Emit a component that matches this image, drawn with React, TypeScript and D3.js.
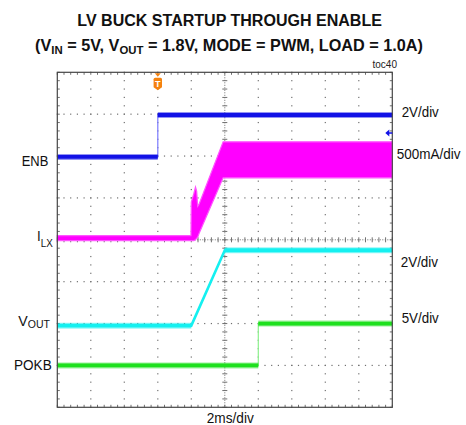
import React, { useLayoutEffect, useRef } from 'react';
import * as d3 from 'd3';

// ---------- data ----------
const titleLine1 = 'LV BUCK STARTUP THROUGH ENABLE';
const tocLabel = 'toc40';
const timeLabel = '2ms/div';
const timeDomain = [-6, 14]; // ms, trigger at 0, 2 ms/div
const msPerDiv = 2;

const enbTime = [-6, 0, 0, 14];
const enbVolts = [0, 0, 2, 2];

const ilTime = [-6, 1.98, 2.0, 2.15, 2.25, 2.32, 2.38, 2.45, 3.9, 14];
const ilUpper = [0.05, 0.05, 0.45, 0.55, 0.63, 0.58, 0.4, 0.42, 1.17, 1.17];
const ilLower = [-0.01, -0.01, -0.01, -0.01, 0.0, 0.02, 0.03, 0.07, 0.74, 0.74];

const voutTime = [-6, 2, 4, 14];
const voutVolts = [0, 0, 1.8, 1.8];

const pokbTime = [-6, 6, 6, 14];
const pokbVolts = [0, 0, 5, 5];

const channelNames = ['ENB', 'I', 'V', 'POKB'];
const channelSubs = ['', 'LX', 'OUT', ''];
const scaleLabels = ['2V/div', '500mA/div', '2V/div', '5V/div'];
const channelPerDiv = [2, 0.5, 1, 5];
const channelOffsetDiv = [1.98, 0, -2.05, -3.0];
const channelColors = ['#1212e6', '#ff00ff', '#14f0f0', '#1ee01e'];
const channelEdgeColors = ['#7a7aff', '#ff00ff', '#14f0f0', '#8cf08c'];
const markerDiv = 2.55;

// ---------- layout ----------
const W = 466, H = 425;
const X0 = 57.3, Y0 = 72.3, PW = 335, PH = 335;
const Y_DIVS = 8, MINOR = 5;
const FONT = '"Liberation Sans", Arial, Helvetica, sans-serif';
const GRID = '#707070';

function FitText(props: any) {
  const { x, y, width, anchor = 'start', children, ...rest } = props;
  const ref = useRef<SVGTextElement>(null);
  useLayoutEffect(() => {
    const el = ref.current;
    if (!el) return;
    el.setAttribute('transform', `translate(${x},${y})`);
    const w = el.getBBox().width;
    const s = w > 0 ? width / w : 1;
    el.setAttribute('transform', `translate(${x},${y}) scale(${s},1)`);
  }, [x, y, width]);
  return (
    <text ref={ref} x={0} y={0} textAnchor={anchor} transform={`translate(${x},${y})`} fontFamily={FONT} {...rest}>
      {children}
    </text>
  );
}

export default function App() {
  const xScale = d3.scaleLinear().domain(timeDomain).range([X0, X0 + PW]);
  const divScale = d3.scaleLinear().domain([-Y_DIVS / 2, Y_DIVS / 2]).range([Y0 + PH, Y0]);
  const chY = (ch: number, v: number) => divScale(v / channelPerDiv[ch] + channelOffsetDiv[ch]);

  const nXDiv = (timeDomain[1] - timeDomain[0]) / msPerDiv;
  const xMajor = d3.range(0, nXDiv + 1).map((i) => timeDomain[0] + i * msPerDiv);
  const xMinor = d3.range(0, nXDiv * MINOR + 1).map((i) => timeDomain[0] + (i * msPerDiv) / MINOR);
  const yMajor = d3.range(0, Y_DIVS + 1).map((i) => -Y_DIVS / 2 + i);
  const yMinor = d3.range(0, Y_DIVS * MINOR + 1).map((i) => -Y_DIVS / 2 + i / MINOR);
  const xC = xScale((timeDomain[0] + timeDomain[1]) / 2);
  const yC = divScale(0);

  const grid: any[] = [];
  xMajor.forEach((t, i) => {
    if (i === 0 || i === nXDiv || i === nXDiv / 2) return;
    yMinor.forEach((d, j) => {
      grid.push(<rect key={`vg${i}-${j}`} x={xScale(t) - 0.6} y={divScale(d) - 0.6} width={1.2} height={1.2} fill={GRID} />);
    });
  });
  yMajor.forEach((d, i) => {
    if (i === 0 || i === Y_DIVS || i === Y_DIVS / 2) return;
    xMinor.forEach((t, j) => {
      grid.push(<rect key={`hg${i}-${j}`} x={xScale(t) - 0.6} y={divScale(d) - 0.6} width={1.2} height={1.2} fill={GRID} />);
    });
  });
  const center: any[] = [];
  center.push(<line key="cv" x1={xC} x2={xC} y1={Y0} y2={Y0 + PH} stroke={GRID} strokeWidth={1} strokeDasharray="1 1.5" />);
  center.push(<line key="ch" x1={X0} x2={X0 + PW} y1={yC} y2={yC} stroke={GRID} strokeWidth={1} strokeDasharray="1 1.5" />);
  yMinor.forEach((d, j) => {
    center.push(<line key={`cvt${j}`} x1={xC - 2.5} x2={xC + 2.5} y1={divScale(d)} y2={divScale(d)} stroke={GRID} strokeWidth={1} />);
  });
  xMinor.forEach((t, j) => {
    center.push(<line key={`cht${j}`} x1={xScale(t)} x2={xScale(t)} y1={yC - 2.5} y2={yC + 2.5} stroke={GRID} strokeWidth={1} />);
  });
  const frameTicks: any[] = [];
  xMinor.forEach((t, j) => {
    const x = xScale(t);
    frameTicks.push(<line key={`ft${j}`} x1={x} x2={x} y1={Y0} y2={Y0 + 2.5} stroke={GRID} />);
    frameTicks.push(<line key={`fb${j}`} x1={x} x2={x} y1={Y0 + PH} y2={Y0 + PH - 2.5} stroke={GRID} />);
  });
  yMinor.forEach((d, j) => {
    const y = divScale(d);
    frameTicks.push(<line key={`fl${j}`} x1={X0} x2={X0 + 2.5} y1={y} y2={y} stroke={GRID} />);
    frameTicks.push(<line key={`fr${j}`} x1={X0 + PW} x2={X0 + PW - 2.5} y1={y} y2={y} stroke={GRID} />);
  });

  const line = d3.line<[number, number]>().x((p) => p[0]).y((p) => p[1]);
  const traceDefs = [
    { ch: 0, t: enbTime, v: enbVolts },
    { ch: 2, t: voutTime, v: voutVolts },
    { ch: 3, t: pokbTime, v: pokbVolts },
  ];
  const traces = traceDefs.map(({ ch, t, v }) => {
    const pts: [number, number][] = t.map((tt, i) => [xScale(tt), chY(ch, v[i])]);
    const flats: any[] = [];
    for (let i = 0; i < pts.length - 1; i++) {
      if (v[i] === v[i + 1] && t[i] !== t[i + 1]) {
        const seg = line([pts[i], pts[i + 1]]) as string;
        flats.push(<path key={`w${i}`} d={seg} stroke={channelColors[ch]} strokeOpacity={0.45} strokeWidth={6} fill="none" />);
        flats.push(<path key={`c${i}`} d={seg} stroke={channelColors[ch]} strokeWidth={3.8} fill="none" />);
      }
    }
    const isRamp = ch === 2;
    return (
      <g key={`tr${ch}`}>
        <path d={line(pts) as string} stroke={channelEdgeColors[ch]} strokeWidth={isRamp ? 2.6 : 1.2} fill="none" />
        {flats}
      </g>
    );
  });

  const ilData = ilTime.map((t, i) => ({ t, hi: ilUpper[i], lo: ilLower[i] }));
  const ilArea = d3
    .area<{ t: number; hi: number; lo: number }>()
    .x((d) => xScale(d.t))
    .y0((d) => chY(1, d.lo))
    .y1((d) => chY(1, d.hi));
  const ilPath = ilArea(ilData) as string;

  const xT = xScale(0);
  const yMark = divScale(markerDiv);

  const labelY = [166, 240.5, 326, 370];
  const labelRight = [48.3, 52.7, 50, 51.7];
  const labelWidth = [26.6, 16, 31.7, 37.7];
  const subDy = [0, 6, 2.4, 0];
  const scaleX = [401.7, 396.7, 400.7, 401.7];
  const scaleY = [116.5, 159.3, 266.7, 322.7];
  const scaleW = [37.3, 64, 37.6, 37.3];

  return (
    <svg width={W} height={H} style={{ position: 'absolute', left: 0, top: 0, background: '#fff' }}>
      <rect x={0} y={0} width={W} height={H} fill="#fff" />
      <FitText x={229.6} y={25.8} width={304.7} anchor="middle" fontSize={17} fontWeight="bold" fill="#111">
        {titleLine1}
      </FitText>
      <FitText x={229} y={50.5} width={388} anchor="middle" fontSize={16.4} fontWeight="bold" fill="#111">
        <tspan>(V</tspan>
        <tspan fontSize={11.5} dy={3.5}>IN</tspan>
        <tspan dy={-3.5}> = 5V, V</tspan>
        <tspan fontSize={11.5} dy={3.5}>OUT</tspan>
        <tspan dy={-3.5}> = 1.8V, MODE = PWM, LOAD = 1.0A)</tspan>
      </FitText>
      <text x={397} y={67.7} textAnchor="end" fontSize={10} fontFamily={FONT} fill="#222">
        {tocLabel}
      </text>

      {grid}
      {center}
      {frameTicks}

      <path d={ilPath} fill="#ff00ff" stroke="#ff55ff" strokeWidth={1.2} />
      {traces}

      <rect x={X0} y={Y0} width={PW} height={PH} fill="none" stroke="#454545" strokeWidth={1.2} />

      <path d={`M${xT - 3},${Y0 + 1} L${xT + 3},${Y0 + 1} L${xT},${Y0 + 4.5} Z`} fill="#f5820f" />
      <path
        d={`M${xT - 4.2},${Y0 + 7} Q${xT - 4.2},${Y0 + 5.5} ${xT - 2.7},${Y0 + 5.5} L${xT + 2.7},${Y0 + 5.5} Q${xT + 4.2},${Y0 + 5.5} ${xT + 4.2},${Y0 + 7} L${xT + 4.2},${Y0 + 15} L${xT},${Y0 + 18} L${xT - 4.2},${Y0 + 15} Z`}
        fill="#f5820f"
      />
      <text x={xT} y={Y0 + 14.5} textAnchor="middle" fontSize={9} fontWeight="bold" fontFamily={FONT} fill="#fff">
        T
      </text>

      <path d={`M${X0 + PW - 7},${yMark} L${X0 + PW - 3},${yMark - 3.5} L${X0 + PW - 3},${yMark + 3.5} Z`} fill="#1212e6" />
      <line x1={X0 + PW - 4} x2={X0 + PW} y1={yMark} y2={yMark} stroke="#1212e6" strokeWidth={1.5} />

      {channelNames.map((n, i) => (
        <FitText key={`ll${i}`} x={labelRight[i]} y={labelY[i]} width={labelWidth[i]} anchor="end" fontSize={15.5} fill="#111">
          <tspan>{n}</tspan>
          {channelSubs[i] ? (
            <tspan fontSize={11.5} dy={subDy[i]}>
              {channelSubs[i]}
            </tspan>
          ) : null}
        </FitText>
      ))}

      {scaleLabels.map((s, i) => (
        <FitText key={`sl${i}`} x={scaleX[i]} y={scaleY[i]} width={scaleW[i]} anchor="start" fontSize={15.5} fill="#111">
          {s}
        </FitText>
      ))}

      <FitText x={230.3} y={423} width={47.3} anchor="middle" fontSize={15.5} fill="#111">
        {timeLabel}
      </FitText>
    </svg>
  );
}
